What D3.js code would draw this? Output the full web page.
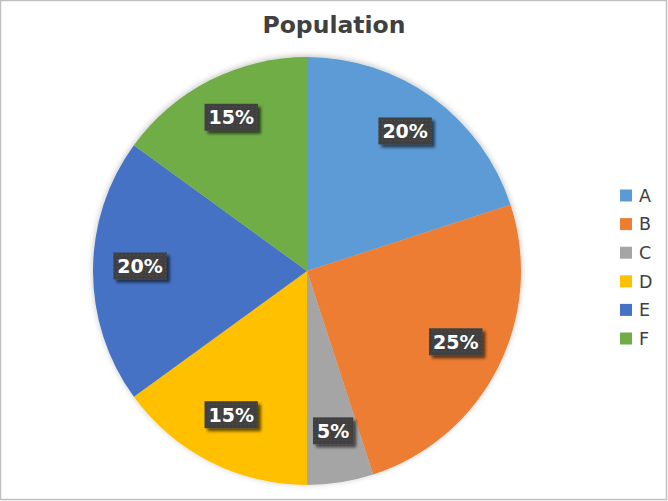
<!DOCTYPE html>
<html><head><meta charset="utf-8">
<script src="https://cdn.jsdelivr.net/npm/d3@7"></script>
<style>body{margin:0;background:#fff;} svg{display:block;font-family:"DejaVu Sans",sans-serif;}</style>
</head><body>
<svg id="chart" width="668" height="501"></svg>
<script>
const categories = ["A","B","C","D","E","F"];
const values = [20,25,5,15,20,15];
const colors = ["#5B9BD5","#ED7D31","#A5A5A5","#FFC000","#4472C4","#70AD47"];
const title = "Population";

const svg = d3.select("#chart");
const W = 668, H = 501;
svg.append("rect").attr("x",0.5).attr("y",0.5).attr("width",W-2).attr("height",H-2)
  .attr("fill","#fff").attr("stroke","#c0c0c0").attr("stroke-width",1.5);

const defs = svg.append("defs");
const f = defs.append("filter").attr("id","sh").attr("x","-30%").attr("y","-30%").attr("width","160%").attr("height","160%");
f.append("feGaussianBlur").attr("in","SourceAlpha").attr("stdDeviation",1.5).attr("result","b");
f.append("feOffset").attr("in","b").attr("dx",3).attr("dy",3).attr("result","o");
f.append("feComponentTransfer").attr("in","o").attr("result","o2").append("feFuncA").attr("type","linear").attr("slope",0.6);
const m = f.append("feMerge"); m.append("feMergeNode").attr("in","o2"); m.append("feMergeNode").attr("in","SourceGraphic");
const pf = defs.append("filter").attr("id","pieSh").attr("x","-10%").attr("y","-10%").attr("width","120%").attr("height","120%");
pf.append("feGaussianBlur").attr("in","SourceAlpha").attr("stdDeviation",3).attr("result","b");
pf.append("feOffset").attr("in","b").attr("dx",0).attr("dy",-1).attr("result","o");
pf.append("feComponentTransfer").attr("in","o").attr("result","o2").append("feFuncA").attr("type","linear").attr("slope",0.25);
const pm = pf.append("feMerge"); pm.append("feMergeNode").attr("in","o2"); pm.append("feMergeNode").attr("in","SourceGraphic");
const pat = defs.append("pattern").attr("id","dots").attr("width",4).attr("height",4).attr("patternUnits","userSpaceOnUse");
pat.append("rect").attr("width",4).attr("height",4).attr("fill","#404040");
pat.append("rect").attr("x",1).attr("y",1).attr("width",1).attr("height",1).attr("fill","#555");

svg.append("text").attr("x",334).attr("y",33).attr("text-anchor","middle")
  .attr("font-size",23.5).attr("font-weight","bold").attr("fill","#404040").text(title);

const cx = 307, cy = 271, r = 214;
const data = categories.map((c,i)=>({cat:c,value:values[i],color:colors[i]}));
const pie = d3.pie().value(d=>d.value).sort(null);
const arcs = pie(data);
const arc = d3.arc().innerRadius(0).outerRadius(r);
const labelArc = d3.arc().innerRadius(r*0.78).outerRadius(r*0.78);
const total = d3.sum(values);

const g = svg.append("g").attr("transform",`translate(${cx},${cy})`);
g.append("g").attr("filter","url(#pieSh)").selectAll("path").data(arcs).join("path")
  .attr("d",arc).attr("fill",d=>d.data.color);

const lg = g.selectAll("g.lbl").data(arcs).join("g").attr("class","lbl")
  .attr("transform",d=>{const [x,y]=labelArc.centroid(d);return `translate(${x},${y-5})`;});
lg.each(function(d){
  const s = d3.select(this);
  const rect = s.append("rect").attr("fill","url(#dots)").attr("filter","url(#sh)");
  const t = s.append("text").attr("text-anchor","middle").attr("dy","0.36em")
    .attr("font-size",19).attr("font-weight","bold").attr("fill","#fff")
    .text(Math.round(d.data.value/total*100)+"%");
  const bb = t.node().getBBox();
  rect.attr("x",bb.x-4).attr("y",-13.5).attr("width",bb.width+8).attr("height",27);
});

const leg = svg.append("g").attr("transform","translate(620,195.5)");
const li = leg.selectAll("g").data(data).join("g").attr("transform",(d,i)=>`translate(0,${i*28.6})`);
li.append("rect").attr("x",0).attr("y",-6).attr("width",12).attr("height",12).attr("fill",d=>d.color);
li.append("text").attr("x",19).attr("dy","0.36em").attr("font-size",17.5).attr("fill","#404040").text(d=>d.cat);
</script>
</body></html>
